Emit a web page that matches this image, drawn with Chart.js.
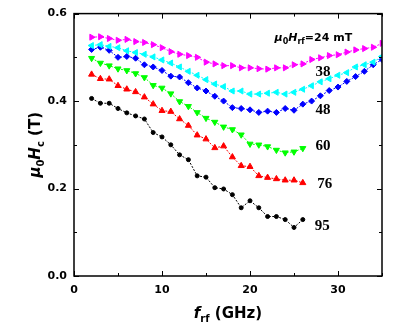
<!DOCTYPE html>
<html>
<head>
<meta charset="utf-8">
<script src="https://cdn.jsdelivr.net/npm/chart.js@4"></script>
<style>
html, body { margin: 0; padding: 0; background: #fff; }
</style>
</head>
<body>
<canvas id="myChart" width="411" height="332"></canvas>
<script>
// frequency (GHz), shared by all series
const freq = [2, 3, 4, 5, 6, 7, 8, 9, 10, 11, 12, 13, 14, 15, 16, 17, 18, 19, 20, 21, 22, 23, 24, 25, 26, 27, 28, 29, 30, 31, 32, 33, 34, 35];

// mu0 Hc (T) for each rf field amplitude
const hc24 = [0.546, 0.547, 0.543, 0.539, 0.541, 0.536, 0.534, 0.529, 0.522, 0.513, 0.507, 0.504, 0.500, 0.489, 0.485, 0.481, 0.481, 0.476, 0.476, 0.474, 0.473, 0.476, 0.476, 0.483, 0.485, 0.495, 0.499, 0.504, 0.506, 0.512, 0.517, 0.520, 0.523, 0.532];
const hc38 = [0.527, 0.529, 0.525, 0.522, 0.515, 0.511, 0.507, 0.501, 0.494, 0.487, 0.478, 0.468, 0.459, 0.449, 0.439, 0.433, 0.423, 0.423, 0.416, 0.416, 0.418, 0.420, 0.416, 0.420, 0.427, 0.435, 0.444, 0.451, 0.459, 0.465, 0.478, 0.483, 0.489, 0.502];
const hc48 = [0.518, 0.523, 0.516, 0.500, 0.502, 0.498, 0.483, 0.478, 0.470, 0.457, 0.455, 0.442, 0.430, 0.423, 0.411, 0.400, 0.385, 0.383, 0.380, 0.374, 0.377, 0.374, 0.383, 0.379, 0.393, 0.400, 0.412, 0.424, 0.432, 0.445, 0.456, 0.468, 0.483, 0.495];
const hc60 = [0.498, 0.487, 0.481, 0.474, 0.470, 0.463, 0.454, 0.436, 0.430, 0.417, 0.399, 0.388, 0.374, 0.361, 0.352, 0.341, 0.335, 0.323, 0.302, 0.300, 0.296, 0.288, 0.282, 0.284, 0.292];
const hc76 = [0.461, 0.451, 0.450, 0.435, 0.427, 0.421, 0.409, 0.393, 0.378, 0.376, 0.359, 0.344, 0.322, 0.313, 0.293, 0.297, 0.272, 0.252, 0.250, 0.229, 0.225, 0.222, 0.219, 0.219, 0.213];
const hc95 = [0.406, 0.395, 0.395, 0.383, 0.373, 0.366, 0.359, 0.328, 0.318, 0.300, 0.277, 0.266, 0.229, 0.226, 0.202, 0.199, 0.186, 0.156, 0.172, 0.156, 0.136, 0.136, 0.129, 0.111, 0.129];

const seriesLabels = ['24', '38', '48', '60', '76', '95'];
const xTicks = [0, 10, 20, 30];
const yTicks = [0.0, 0.2, 0.4, 0.6];

function pts(vals) {
    return vals.map((v, i) => ({ x: freq[i], y: v }));
}

function series(label, vals, color, style, rot, r) {
    return {
        label: label,
        data: pts(vals),
        borderColor: color,
        backgroundColor: color,
        borderWidth: 1,
        borderDash: [2, 1.5],
        pointStyle: style,
        rotation: rot,
        pointRadius: r,
        pointBorderWidth: 1,
        pointHoverRadius: r,
        tension: 0
    };
}

// rich text: list of segments {t, f, dy}
function richWidth(ctx, segs) {
    let w = 0;
    segs.forEach(s => { ctx.font = s.f; w += ctx.measureText(s.t).width; });
    return w;
}
function richText(ctx, segs, x, y) {
    let w = richWidth(ctx, segs);
    let cx = x - w / 2;
    ctx.textBaseline = 'alphabetic';
    ctx.textAlign = 'left';
    segs.forEach(s => {
        ctx.font = s.f;
        ctx.fillText(s.t, cx, y + (s.dy || 0));
        cx += ctx.measureText(s.t).width;
    });
}

const decor = {
    id: 'decor',
    afterDraw(chart) {
        const ctx = chart.ctx;
        const a = chart.chartArea;
        const xs = chart.scales.x, ys = chart.scales.y;
        ctx.save();
        ctx.strokeStyle = '#000';
        ctx.fillStyle = '#000';
        ctx.lineWidth = 1.5;
        ctx.setLineDash([]);
        ctx.strokeRect(a.left, a.top, a.right - a.left, a.bottom - a.top);

        // inward ticks on all four sides
        ctx.lineWidth = 1;
        for (let v = 0; v <= 35; v += 5) {
            const px = Math.round(xs.getPixelForValue(v)) + 0.5;
            const len = v % 10 === 0 ? 5 : 3;
            ctx.beginPath();
            ctx.moveTo(px, a.bottom); ctx.lineTo(px, a.bottom - len);
            ctx.moveTo(px, a.top); ctx.lineTo(px, a.top + len);
            ctx.stroke();
        }
        for (let i = 0; i <= 6; i++) {
            const py = Math.round(ys.getPixelForValue(i / 10)) + 0.5;
            const len = i % 2 === 0 ? 5 : 3;
            ctx.beginPath();
            ctx.moveTo(a.left, py); ctx.lineTo(a.left + len, py);
            ctx.moveTo(a.right, py); ctx.lineTo(a.right - len, py);
            ctx.stroke();
        }

        // axis titles
        const big = 'bold 15px "DejaVu Sans"';
        const bigI = 'italic bold 15px "DejaVu Sans"';
        const sub = 'bold 10px "DejaVu Sans"';
        richText(ctx, [
            { t: 'f', f: bigI },
            { t: 'rf', f: sub, dy: 4 },
            { t: ' (GHz)', f: big }
        ], (a.left + a.right) / 2, 318);

        ctx.save();
        ctx.translate(40, (a.top + a.bottom) / 2);
        ctx.rotate(-Math.PI / 2);
        const yb = 'bold 15px "DejaVu Sans"';
        const ybI = 'italic bold 15px "DejaVu Sans"';
        richText(ctx, [
            { t: 'μ', f: ybI },
            { t: '0', f: sub, dy: 4 },
            { t: 'H', f: ybI },
            { t: 'c', f: sub, dy: 4 },
            { t: ' (T)', f: yb }
        ], 0, 0);
        ctx.restore();

        // field labels
        const lf = 'bold 11px "DejaVu Sans"';
        const lfI = 'italic bold 11px "DejaVu Sans"';
        const ls = 'bold 8px "DejaVu Sans"';
        richText(ctx, [
            { t: 'μ', f: lfI },
            { t: '0', f: ls, dy: 3 },
            { t: 'H', f: lfI },
            { t: 'rf', f: ls, dy: 3 },
            { t: '=' + seriesLabels[0] + ' mT', f: lf }
        ], xs.getPixelForValue(27.2), ys.getPixelForValue(0.538));

        const pos = [[28.3, 0.467], [28.3, 0.379], [28.3, 0.298], [28.5, 0.210], [28.2, 0.115]];
        ctx.font = 'bold 15px "Liberation Serif"';
        ctx.textAlign = 'center';
        ctx.textBaseline = 'middle';
        for (let i = 1; i < seriesLabels.length; i++) {
            ctx.fillText(seriesLabels[i], xs.getPixelForValue(pos[i - 1][0]), ys.getPixelForValue(pos[i - 1][1]));
        }
        ctx.restore();
    }
};

const ctx = document.getElementById('myChart');
const myChart = new Chart(ctx, {
    type: 'line',
    data: {
        datasets: [
            series(seriesLabels[0], hc24, '#ff00ff', 'triangle', 90, 3.5),
            series(seriesLabels[1], hc38, '#00ffff', 'triangle', -90, 3.5),
            series(seriesLabels[2], hc48, '#0000ff', 'rectRot', 0, 3),
            series(seriesLabels[3], hc60, '#00ff00', 'triangle', 180, 3.5),
            series(seriesLabels[4], hc76, '#ff0000', 'triangle', 0, 3.5),
            series(seriesLabels[5], hc95, '#000000', 'circle', 0, 2)
        ]
    },
    options: {
        responsive: false,
        animation: false,
        devicePixelRatio: 1,
        layout: { padding: { top: 10, right: 29, left: 0, bottom: 0 } },
        plugins: { legend: { display: false }, tooltip: { enabled: false } },
        scales: {
            x: {
                type: 'linear',
                min: 0, max: 35,
                afterFit(s) { s.height = 56; },
                afterBuildTicks(s) { s.ticks = xTicks.map(v => ({ value: v })); },
                grid: { display: false, drawTicks: false },
                border: { display: false },
                ticks: {
                    padding: 8,
                    color: '#000',
                    font: { family: 'DejaVu Sans', size: 11, weight: 'bold' },
                    maxRotation: 0
                }
            },
            y: {
                min: 0, max: 0.6,
                afterFit(s) { s.width = 74; },
                afterBuildTicks(s) { s.ticks = yTicks.map(v => ({ value: v })); },
                grid: { display: false, drawTicks: false },
                border: { display: false },
                ticks: {
                    padding: 7,
                    color: '#000',
                    font: { family: 'DejaVu Sans', size: 11, weight: 'bold' },
                    callback: v => v.toFixed(1)
                }
            }
        }
    },
    plugins: [decor]
});
</script>
</body>
</html>
